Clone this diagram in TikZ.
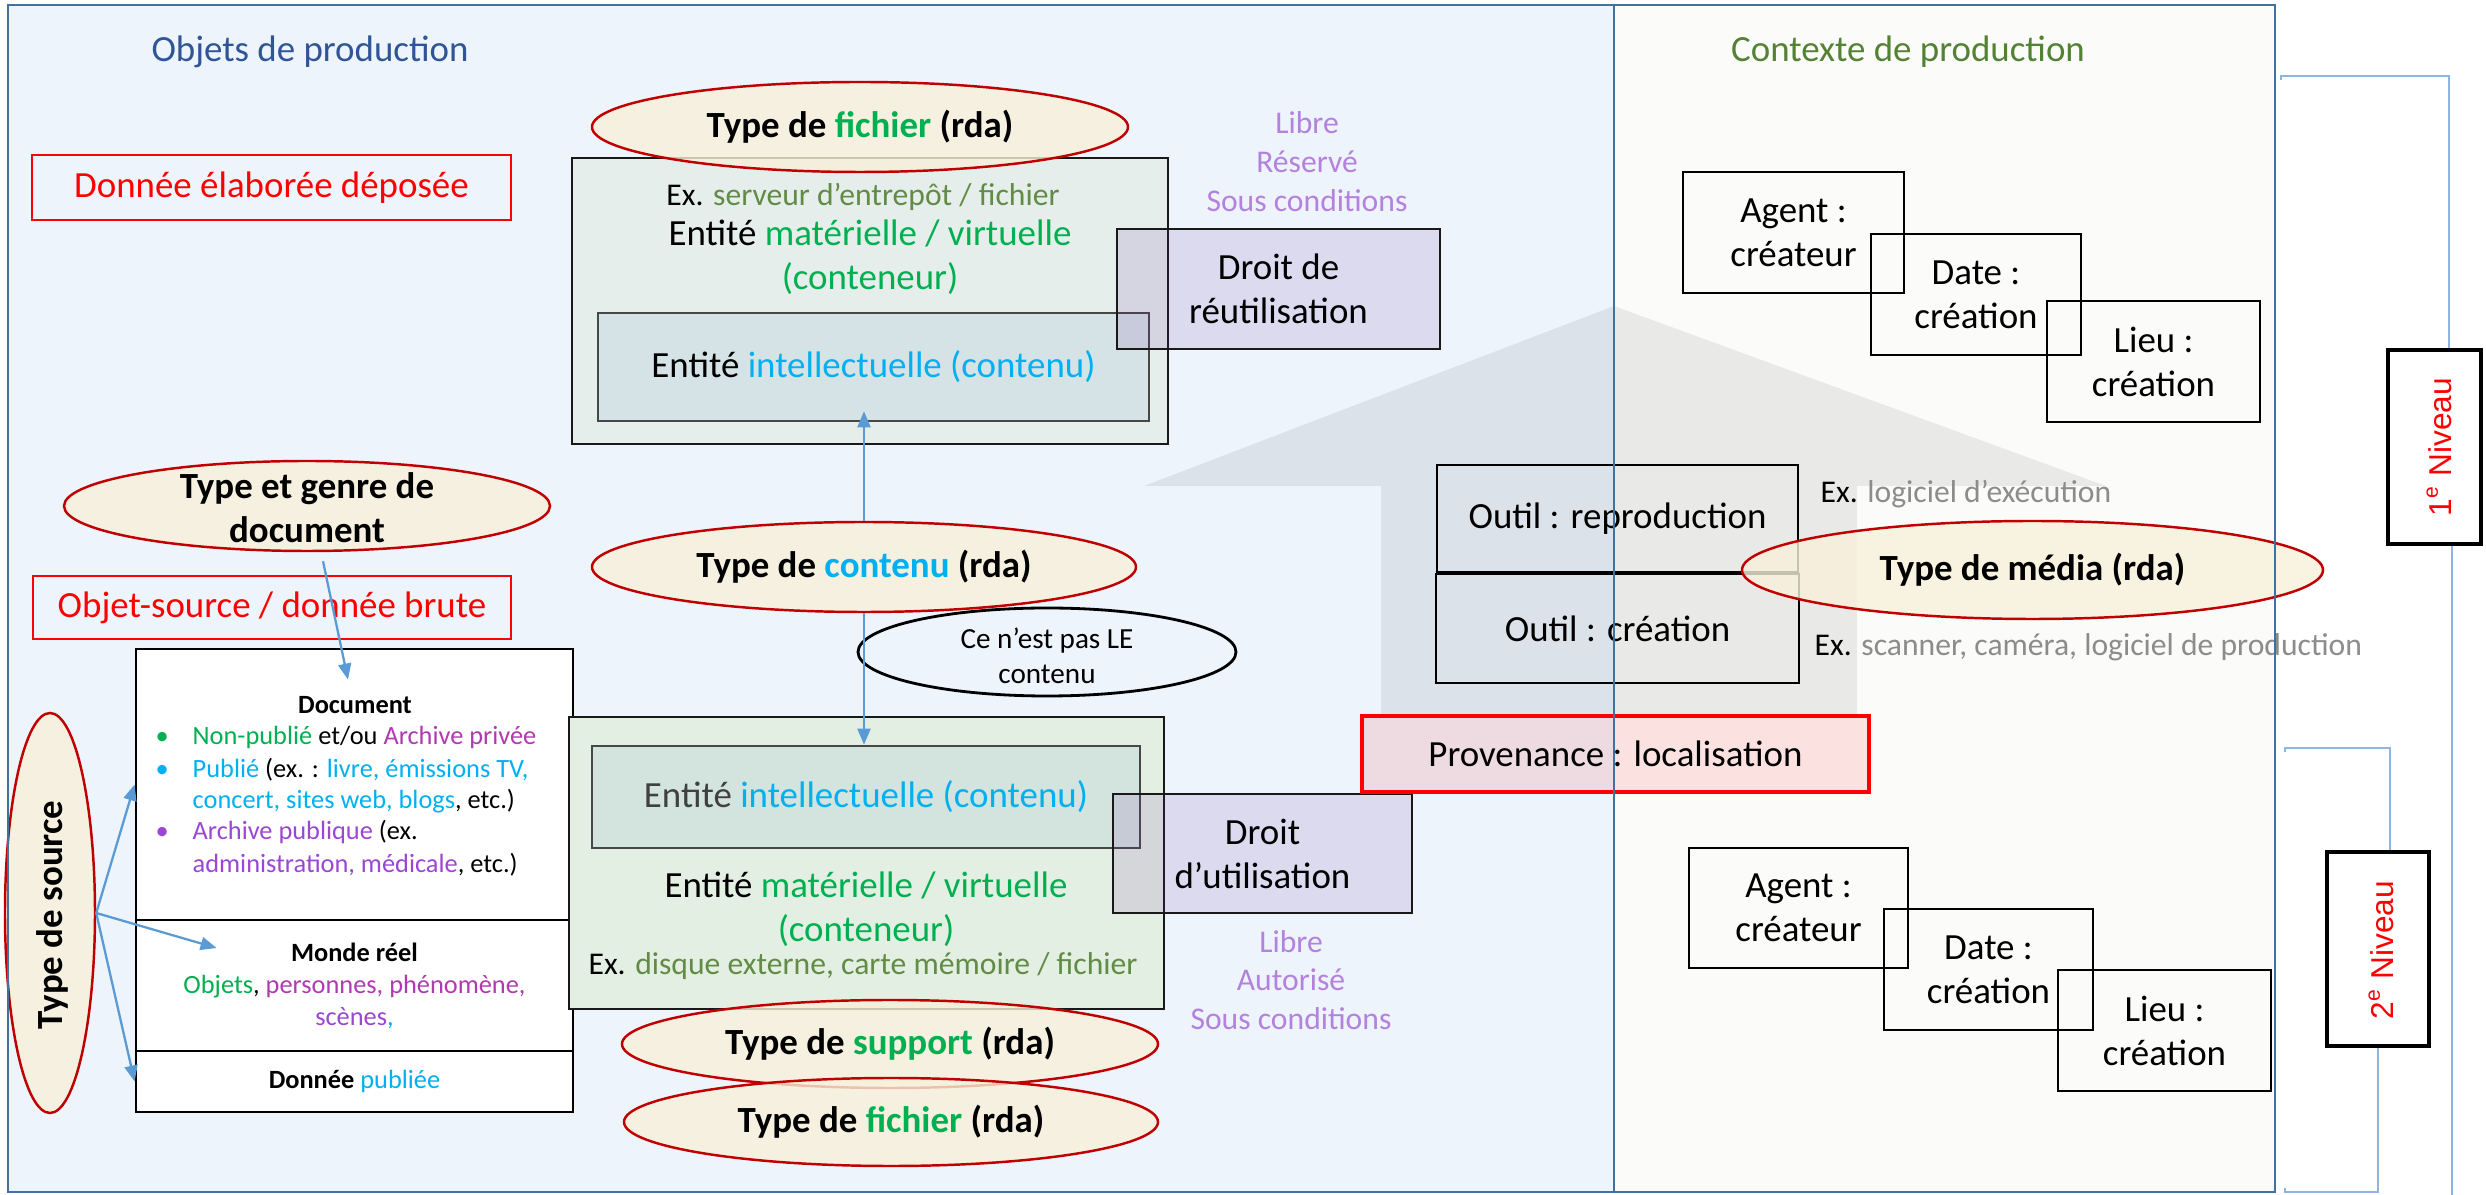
\documentclass[tikz,border=0pt]{standalone}
\usepackage{fontspec}
\setmainfont{Carlito}
\newfontfamily\arialf{Liberation Sans}
\usetikzlibrary{shapes.geometric,arrows.meta}

\definecolor{panelL}{RGB}{237,244,251}
\definecolor{panelR}{RGB}{251,251,250}
\definecolor{panelB}{RGB}{65,113,156}
\definecolor{titleblue}{RGB}{47,85,151}
\definecolor{titlegreen}{RGB}{84,130,53}
\definecolor{ogreen}{RGB}{0,176,80}
\definecolor{ocyan}{RGB}{0,176,240}
\definecolor{exolive}{RGB}{98,140,70}
\definecolor{exgray}{RGB}{140,140,140}
\definecolor{lilac}{RGB}{180,130,222}
\definecolor{magentap}{RGB}{176,58,176}
\definecolor{violetp}{RGB}{155,70,212}
\definecolor{ellred}{RGB}{192,0,0}
\definecolor{ellfill}{RGB}{248,240,218}
\definecolor{contA}{RGB}{229,238,235}
\definecolor{contB}{RGB}{227,239,227}
\definecolor{innerA}{RGB}{213,227,230}
\definecolor{innerB}{RGB}{211,227,222}
\definecolor{droitfill}{RGB}{112,48,160}
\definecolor{arrblue}{RGB}{91,155,213}
\definecolor{brkblue}{RGB}{141,180,226}
\definecolor{darkline}{RGB}{25,25,25}
\definecolor{dgray}{RGB}{64,64,64}

\tikzset{
  fmain/.style={font=\fontsize{10.5}{12.5}\selectfont},
  fex/.style={font=\fontsize{9}{11}\selectfont},
  fsmall/.style={font=\fontsize{7.5}{9.1}\selectfont},
  fsmallb/.style={font=\bfseries\fontsize{7.5}{9.1}\selectfont},
  rbox/.style 2 args={rectangle, minimum width=#1mm, minimum height=#2mm, inner sep=0},
  redbox/.style={draw=red, line width=0.7pt, text=red, fmain},
  contbox/.style={draw=darkline, line width=0.75pt},
  innbox/.style={draw=darkline!80, line width=0.75pt, fmain},
  droitbox/.style={draw=darkline, line width=0.75pt, fill=droitfill, fill opacity=0.13, text opacity=1, fmain, align=center},
  ell/.style={ellipse, draw=ellred, line width=0.7pt, fill=ellfill, fill opacity=0.8, text opacity=1, inner sep=0, font=\bfseries\fontsize{10.5}{12.5}\selectfont},
  docbox/.style={draw=black, line width=0.8pt, fill=white},
  agbox/.style={draw=black, line width=0.75pt, align=center, fmain},
  arr/.style={draw=arrblue, line width=0.65pt, -{Triangle[length=1.6mm, width=1.3mm]}},
  brk/.style={draw=brkblue, line width=0.6pt},
  lineleft/.style={fsmall, anchor=base west, inner sep=0},
}

\begin{document}
\begin{tikzpicture}[x=0.1mm,y=-0.1mm]
\useasboundingbox (0,0) rectangle (2486,1195);

% panels
\fill[panelL] (8,5) rectangle (1614,1192);
\fill[panelR] (1614,5) rectangle (2275,1192);

% big grey arrow
\fill[black, fill opacity=0.07] (1614,306) -- (2106,486) -- (1857,486) -- (1857,716) -- (1381,716) -- (1381,486) -- (1144,486) -- cycle;

% titles
\node[fmain, text=titleblue] (t1) at (310,52) {Objets de production};
\node[fmain, text=titlegreen] (t2) at (1908,52) {Contexte de production};

% red boxes
\node[redbox, rbox={47.9}{6.5}] (dep) at (271.5,187.5) {Donnée élaborée déposée};
\node[redbox, rbox={47.8}{6.3}] (osrc) at (272,607.5) {Objet-source / donnée brute};

% top container
\node[contbox, fill=contA, rbox={59.6}{28.6}] (contA) at (870,301) {};
\node[fex] (exA) at (863,197) {Ex. \textcolor{exolive}{serveur d’entrepôt / fichier}};
\node[fmain, align=center] (matA) at (870,257) {Entité \textcolor{ogreen}{matérielle / virtuelle}\\\textcolor{ogreen}{(conteneur)}};
\node[innbox, fill=innerA, rbox={55.1}{10.8}] (innA) at (873.5,367) {Entité \textcolor{ocyan}{intellectuelle (contenu)}};
\node[droitbox, rbox={32.3}{12}] (drA) at (1278.5,289) {Droit de\\réutilisation};
\node[fex, text=lilac, align=center] (libA) at (1307,161.5) {Libre\\Réservé\\Sous conditions};
\node[ell, minimum width=53.6mm, minimum height=9mm] (fichA) at (860,127) {Type de \textcolor{ogreen}{fichier} (rda)};

% genre + contenu ellipses
\node[ell, minimum width=48.6mm, minimum height=9mm] (genre) at (307,506) {};
\node[font=\bfseries\fontsize{10.5}{12.5}\selectfont, align=center] (genret) at (307,508) {Type et genre de\\document};
\node[ell, minimum width=54.4mm, minimum height=9mm] (tcont) at (864,567) {Type de \textcolor{ocyan}{contenu} (rda)};
\node[ellipse, draw=black, line width=0.8pt, minimum width=37.8mm, minimum height=8.8mm, inner sep=0] (cnp) at (1047,652) {};
\node[font=\fontsize{8.3}{10}\selectfont, align=center] (cnpt) at (1047,655.5) {Ce n’est pas LE\\contenu};

% source document boxes
\node[docbox, rbox={43.7}{27.1}] (doc) at (354.5,784.5) {};
\node[docbox, rbox={43.7}{13.1}, fsmall, align=center] (monde) at (354.5,985.5) {\textbf{Monde réel}\\\textcolor{ogreen}{Objets}, \textcolor{magentap}{personnes, phénomène,}\\\textcolor{violetp}{scènes}\textcolor{ocyan}{,}};
\node[docbox, rbox={43.7}{6.1}, fsmall] (pub) at (354.5,1081.5) {\textbf{Donnée} \textcolor{ocyan}{publiée}};
\node[fsmallb] (doct) at (355,705) {Document};
\node[lineleft, text=ogreen] (bu1) at (155,745) {•};
\node[lineleft] (l1) at (192,745) {\textcolor{ogreen}{Non-publié} et/ou \textcolor{magentap}{Archive privée}};
\node[lineleft, text=ocyan] (bu2) at (155,778) {•};
\node[lineleft] (l2) at (192,778) {\textcolor{ocyan}{Publié} (ex. : \textcolor{ocyan}{livre, émissions TV,}};
\node[lineleft] (l3) at (192,809) {\textcolor{ocyan}{concert, sites web, blogs}, etc.)};
\node[lineleft, text=violetp] (bu3) at (155,840) {•};
\node[lineleft] (l4) at (192,840) {\textcolor{violetp}{Archive publique} (ex.};
\node[lineleft] (l5) at (192,873) {\textcolor{violetp}{administration, médicale}, etc.)};

% type de source
\node[ell, minimum width=9mm, minimum height=40mm] (src) at (50,913) {};
\node[rotate=90, font=\bfseries\fontsize{10.5}{12.5}\selectfont] (srct) at (52,915) {Type de source};

% lower container
\node[contbox, fill=contB, rbox={59.5}{29.2}] (contB) at (866.5,863) {};
\node[innbox, fill=innerB, rbox={54.8}{10.2}] (innB) at (866,797) {\textcolor{dgray}{Entité} \textcolor{ocyan}{intellectuelle (contenu)}};
\node[fmain, align=center] (matB) at (866,909.5) {Entité \textcolor{ogreen}{matérielle / virtuelle}\\\textcolor{ogreen}{(conteneur)}};
\node[fex] (exB) at (863,966) {Ex. \textcolor{exolive}{disque externe, carte mémoire / fichier}};
\node[droitbox, rbox={29.9}{11.9}] (drB) at (1262.5,853.5) {Droit\\d’utilisation};
\node[fex, text=lilac, align=center] (libB) at (1291,980) {Libre\\Autorisé\\Sous conditions};
\node[ell, minimum width=53.6mm, minimum height=8.8mm] (supp) at (890,1044) {Type de \textcolor{ogreen}{support} (rda)};
\node[ell, minimum width=53.4mm, minimum height=8.8mm] (fichB) at (891,1122) {Type de \textcolor{ogreen}{fichier} (rda)};

% context boxes
\node[agbox, rbox={22.1}{12.1}] (ag1) at (1793.5,232.5) {Agent :\\créateur};
\node[agbox, rbox={21}{12.1}] (da1) at (1976,294.5) {Date :\\création};
\node[agbox, rbox={21.3}{12.1}] (li1) at (2153.5,361.5) {Lieu :\\création};
\node[agbox, rbox={21.9}{12}] (ag2) at (1798.5,908) {Agent :\\créateur};
\node[agbox, rbox={20.9}{12.1}] (da2) at (1988.5,969.5) {Date :\\création};
\node[agbox, rbox={21.3}{12.1}] (li2) at (2164.5,1030.5) {Lieu :\\création};

% tools
\node[agbox, rbox={36.1}{10.7}] (out1) at (1617.5,518.5) {Outil : reproduction};
\node[agbox, rbox={36.3}{10.9}] (out2) at (1617.5,628.5) {Outil : création};
\node[fex, anchor=west, inner sep=0] (exC) at (1820,494) {Ex. \textcolor{exgray}{logiciel d’exécution}};
\node[fex, anchor=west, inner sep=0] (exD) at (1814,647) {Ex. \textcolor{exgray}{scanner, caméra, logiciel de production}};
\node[ell, minimum width=58.1mm, minimum height=9.8mm] (media) at (2032.5,570) {Type de média (rda)};

% provenance
\node[draw=red, line width=0.9pt, fill=red, fill opacity=0.1, text opacity=1, rbox={50.7}{7.6}, fmain] (prov) at (1615.5,754) {Provenance : localisation};

% niveaux
\node[draw=black, line width=0.9pt, fill=white, rbox={9.3}{19.4}] (niv1) at (2434.5,447) {};
\node[rotate=90, text=red, font=\arialf\fontsize{9}{11}\selectfont] (niv1t) at (2439,447) {1\textsuperscript{e} Niveau};
\node[draw=black, line width=0.9pt, fill=white, rbox={10.2}{19.4}] (niv2) at (2378,949) {};
\node[rotate=90, text=red, font=\arialf\fontsize{9}{11}\selectfont] (niv2t) at (2381,950) {2\textsuperscript{e} Niveau};

\coordinate (b1) at (2449,76);
\draw[brk] (2281,80) -- (2281,76) -- (b1) -- (b1 |- niv1.north);
\coordinate (b1b) at (2452,1200);
\draw[brk] (b1b |- niv1.south) -- (b1b);
\coordinate (b2) at (2390,748);
\draw[brk] (2285,752) -- (2285,748) -- (b2) -- (b2 |- niv2.north);
\coordinate (b2b) at (2378,1192);
\draw[brk] (b2b |- niv2.south) -- (b2b) -- (2285,1192) -- (2285,1188);

% arrows
\draw[arr, shorten >=-1.1mm] (tcont.north) -- (tcont.north |- innA.south);
\draw[arr] (tcont.south) -- (tcont.south |- innB.north);
\draw[arr] ([xshift=1.6mm,yshift=-0.9mm]genre.south) -- ([xshift=-0.65mm,yshift=-3.2mm]doc.north);
\draw[arr] (src.east) -- (doc.west);
\draw[arr] (src.east) -- ([xshift=8.2mm,yshift=3.75mm]monde.west);
\draw[arr] (src.east) -- (pub.west);

% panel borders on top
\draw[panelB, line width=0.8pt] (8,5) rectangle (2275,1192);
\draw[panelB, line width=0.8pt] (1614,5) -- (1614,1192);
\end{tikzpicture}
\end{document}
